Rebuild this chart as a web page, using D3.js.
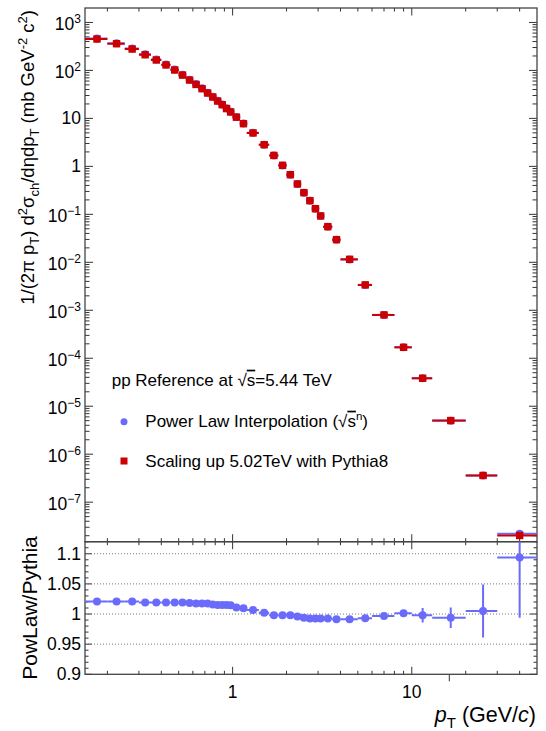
<!DOCTYPE html>
<html>
<head>
<meta charset="utf-8">
<script src="https://cdn.jsdelivr.net/npm/d3@7"></script>
<style>
  body { margin: 0; background: #fff; }
  text { font-family: "Liberation Sans", Arial, Helvetica, sans-serif; fill: #000; }
</style>
</head>
<body>
<svg id="chart" width="546" height="731"></svg>
<script>
// bin edges in pT (GeV/c)
const binEdges = [0.15, 0.2, 0.25, 0.3, 0.35, 0.4, 0.45, 0.5, 0.55, 0.6, 0.65, 0.7, 0.75, 0.8, 0.85,
  0.9, 0.95, 1.0, 1.1, 1.2, 1.4, 1.6, 1.8, 2.0, 2.2, 2.4, 2.6, 2.8, 3.0, 3.2, 3.6, 4.0, 5, 6, 8, 10, 13, 20, 30, 50];

// scaled 5.02 TeV spectrum (Pythia8), mb GeV^-2 c^2
const pythia = [451, 360, 279, 212, 165, 130, 102, 80, 63, 51, 41.6, 33.8, 27.9, 23.0, 19.3, 16.0, 13.6,
  10.6, 7.76, 4.97, 2.83, 1.69, 1.05, 0.671, 0.430, 0.283, 0.193, 0.131, 0.0927, 0.0554, 0.0297,
  0.01154, 0.00338, 8.0e-4, 1.69e-4, 3.83e-5, 5.03e-6, 3.6e-7, 2.02e-8];

// power law / pythia ratio
const ratio = [1.0206, 1.0206, 1.0206, 1.019, 1.019, 1.019, 1.019, 1.019, 1.0183, 1.0173, 1.0173, 1.0173,
  1.016, 1.015, 1.015, 1.015, 1.0145, 1.011, 1.0095, 1.0066, 1.0023, 0.998, 0.998, 0.998, 0.9957, 0.994,
  0.9924, 0.9924, 0.9924, 0.9926, 0.9912, 0.9912, 0.9929, 0.9967, 1.0012, 0.9978, 0.994, 1.005, 1.0937];
const ratioErr = [0, 0, 0, 0, 0, 0, 0, 0, 0, 0, 0, 0, 0, 0, 0, 0, 0, 0, 0, 0, 0, 0, 0, 0, 0, 0,
  0, 0, 0, 0.0005, 0.0005, 0.0008, 0.001, 0.0015, 0.006, 0.012, 0.017, 0.044, 0.10];

const xMajor = [1, 10];
const xMinor = [0.2, 0.3, 0.4, 0.5, 0.6, 0.7, 0.8, 0.9, 2, 3, 4, 5, 6, 7, 8, 9, 20, 30, 40];
const yDecades = [-7, -6, -5, -4, -3, -2, -1, 0, 1, 2, 3];
const ratioMajor = [0.9, 0.95, 1, 1.05, 1.1];
const ratioLabels = ['0.9', '0.95', '1', '1.05', '1.1'];
const ratioGrid = [0.95, 1, 1.05, 1.1];

const L = 85, R = 537, T = 8, M = 541.7, B = 674.3;
const RED = '#cc0000', BLUE = '#6b6bfb';

const svg = d3.select('#chart');
const x = d3.scaleLog().domain([0.15, 50]).range([L, R]);
const y = d3.scaleLog().domain([1.5e-8, 2000]).range([M, T]);
const yr = d3.scaleLinear().domain([0.9, 1.12]).range([B, M]);

const points = pythia.map((v, i) => ({
  lo: binEdges[i], hi: binEdges[i + 1], c: (binEdges[i] + binEdges[i + 1]) / 2,
  py: v, pl: v * ratio[i], r: ratio[i], re: ratioErr[i],
}));

svg.append('defs').append('clipPath').attr('id', 'clipR')
  .append('rect').attr('x', L).attr('y', M).attr('width', R - L).attr('height', B - M);
svg.append('defs').append('clipPath').attr('id', 'clipT')
  .append('rect').attr('x', L).attr('y', T).attr('width', R - L).attr('height', M - T);

// ---- ticks helper ----
function hTicks(vals, ypos, len) {
  svg.append('g').selectAll('line').data(vals).join('line')
    .attr('x1', d => x(d)).attr('x2', d => x(d))
    .attr('y1', ypos).attr('y2', ypos + len)
    .attr('stroke', '#333').attr('stroke-width', 1);
}
function vTicks(scale, vals, xpos, len) {
  svg.append('g').selectAll('line').data(vals).join('line')
    .attr('y1', d => scale(d)).attr('y2', d => scale(d))
    .attr('x1', xpos).attr('x2', xpos + len)
    .attr('stroke', '#333').attr('stroke-width', 1);
}

// x ticks (top panel top & bottom, ratio top & bottom)
[[T, 1], [M, -1], [M, 1], [B, -1]].forEach(([yp, dir]) => {
  hTicks(xMajor, yp, 7.5 * dir);
  hTicks(xMinor, yp, 3.5 * dir);
});
hTicks([16.2], B, 7);

// y ticks top panel
const yMinor = [];
yDecades.concat([-8]).forEach(d => {
  for (let k = 2; k <= 9; k++) {
    const v = k * Math.pow(10, d);
    if (v > 1.5e-8 && v < 2000) yMinor.push(v);
  }
});
const yMajor = yDecades.map(d => Math.pow(10, d));
vTicks(y, yMajor, L, 8); vTicks(y, yMinor, L, 4.5);
vTicks(y, yMajor, R, -8); vTicks(y, yMinor, R, -4.5);

// y ticks ratio
const rMinor = d3.range(0.9, 1.1201, 0.01).map(v => +v.toFixed(2)).filter(v => !ratioMajor.includes(v));
vTicks(yr, ratioMajor, L, 7); vTicks(yr, rMinor, L, 3.5);
vTicks(yr, ratioMajor, R, -7); vTicks(yr, rMinor, R, -3.5);

// ratio grid
svg.append('g').selectAll('line').data(ratioGrid).join('line')
  .attr('x1', L).attr('x2', R).attr('y1', d => yr(d)).attr('y2', d => yr(d))
  .attr('stroke', '#777').attr('stroke-width', 1).attr('stroke-dasharray', '1,2');

// frames
svg.append('rect').attr('x', L).attr('y', T).attr('width', R - L).attr('height', M - T)
  .attr('fill', 'none').attr('stroke', '#444').attr('stroke-width', 1.3);
svg.append('rect').attr('x', L).attr('y', M).attr('width', R - L).attr('height', B - M)
  .attr('fill', 'none').attr('stroke', '#444').attr('stroke-width', 1.3);

// ---- top panel data ----
const spec = svg.append('g').attr('clip-path', 'url(#clipT)');
spec.selectAll('line.pl').data(points).join('line').attr('class', 'pl')
  .attr('x1', d => x(d.lo)).attr('x2', d => x(d.hi)).attr('y1', d => y(d.pl)).attr('y2', d => y(d.pl))
  .attr('stroke', BLUE).attr('stroke-width', 2);
spec.selectAll('circle').data(points).join('circle')
  .attr('cx', d => x(d.c)).attr('cy', d => y(d.pl)).attr('r', 4).attr('fill', BLUE);
spec.selectAll('line.py').data(points).join('line').attr('class', 'py')
  .attr('x1', d => x(d.lo)).attr('x2', d => x(d.hi)).attr('y1', d => y(d.py)).attr('y2', d => y(d.py))
  .attr('stroke', RED).attr('stroke-width', 2);
spec.selectAll('rect').data(points).join('rect')
  .attr('x', d => x(d.c) - 3.7).attr('y', d => y(d.py) - 3.7).attr('width', 7.4).attr('height', 7.4)
  .attr('fill', RED);

// ---- ratio panel data ----
const rat = svg.append('g').attr('clip-path', 'url(#clipR)');
rat.selectAll('line.h').data(points).join('line').attr('class', 'h')
  .attr('x1', d => x(d.lo)).attr('x2', d => x(d.hi)).attr('y1', d => yr(d.r)).attr('y2', d => yr(d.r))
  .attr('stroke', BLUE).attr('stroke-width', 2);
rat.selectAll('line.v').data(points.filter(d => d.re > 0)).join('line').attr('class', 'v')
  .attr('x1', d => x(d.c)).attr('x2', d => x(d.c)).attr('y1', d => yr(d.r - d.re)).attr('y2', d => yr(d.r + d.re))
  .attr('stroke', BLUE).attr('stroke-width', 2);
rat.selectAll('circle').data(points).join('circle')
  .attr('cx', d => x(d.c)).attr('cy', d => yr(d.r)).attr('r', 4).attr('fill', BLUE);

// ---- tick labels ----
const FS = 17.5;
svg.append('g').selectAll('text').data(xMajor).join('text')
  .attr('x', d => x(d)).attr('y', 697.5).attr('text-anchor', 'middle').attr('font-size', FS)
  .text(d => d);

yDecades.forEach(d => {
  const t = svg.append('text').attr('x', 81).attr('text-anchor', 'end').attr('font-size', FS);
  if (d === 0 || d === 1) {
    t.attr('y', y(Math.pow(10, d)) + 6).text(d === 0 ? '1' : '10');
  } else {
    t.attr('y', y(Math.pow(10, d)) + 8);
    t.append('tspan').text('10');
    t.append('tspan').attr('font-size', 12).attr('dy', -7.5).text(d < 0 ? '\u2212' + (-d) : d);
  }
});

svg.append('g').selectAll('text').data(ratioMajor).join('text')
  .attr('x', 81).attr('y', d => yr(d) + 6).attr('text-anchor', 'end').attr('font-size', FS)
  .text((d, i) => ratioLabels[i]);

// ---- axis titles ----
const yt = svg.append('text').attr('transform', 'translate(33.5,10) rotate(-90)')
  .attr('text-anchor', 'end').attr('font-size', 18.5);
function part(t, s, kind) {
  const ts = t.append('tspan').text(s);
  if (kind === 'sub') ts.attr('font-size', 13).attr('dy', 5);
  if (kind === 'sup') ts.attr('font-size', 13).attr('dy', -7);
  return ts;
}
part(yt, '1/(2\u03c0 p'); part(yt, 'T', 'sub'); yt.append('tspan').attr('dy', -5).text(') d');
part(yt, '2', 'sup'); yt.append('tspan').attr('dy', 7).text('\u03c3'); part(yt, 'ch', 'sub');
yt.append('tspan').attr('dy', -5).text('/d\u03b7dp'); part(yt, 'T', 'sub');
yt.append('tspan').attr('dy', -5).text(' (mb GeV'); part(yt, '-2', 'sup');
yt.append('tspan').attr('dy', 7).text(' c'); part(yt, '2', 'sup');
yt.append('tspan').attr('dy', 7).text(')');

svg.append('text').attr('transform', `translate(37,${(M + B) / 2}) rotate(-90)`)
  .attr('text-anchor', 'middle').attr('font-size', 21).text('PowLaw/Pythia');

const xt = svg.append('text').attr('x', 536).attr('y', 722).attr('text-anchor', 'end').attr('font-size', 21.5);
xt.append('tspan').attr('font-style', 'italic').text('p');
xt.append('tspan').attr('font-size', 15).attr('dy', 6).text('T');
xt.append('tspan').attr('dy', -6).text(' (GeV/');
xt.append('tspan').attr('font-style', 'italic').text('c');
xt.append('tspan').text(')');

// ---- legend ----
const LF = 17;
const hdr = svg.append('text').attr('x', 111.7).attr('y', 385.7).attr('font-size', LF);
hdr.append('tspan').text('pp Reference at \u221a');
hdr.append('tspan').attr('text-decoration', 'overline').text('s');
hdr.append('tspan').text('=5.44 TeV');

svg.append('circle').attr('cx', 124).attr('cy', 421.7).attr('r', 3.5).attr('fill', BLUE);
const l1 = svg.append('text').attr('x', 145.3).attr('y', 426.7).attr('font-size', LF);
l1.append('tspan').text('Power Law Interpolation (\u221a');
l1.append('tspan').attr('text-decoration', 'overline').text('s');
l1.append('tspan').attr('font-size', 11.5).attr('dy', -7).text('n');
l1.append('tspan').attr('dy', 7).text(')');

svg.append('rect').attr('x', 120.5).attr('y', 457.5).attr('width', 7).attr('height', 7).attr('fill', RED);
svg.append('text').attr('x', 145.3).attr('y', 466.7).attr('font-size', LF)
  .text('Scaling up 5.02TeV with Pythia8');
</script>
</body>
</html>
